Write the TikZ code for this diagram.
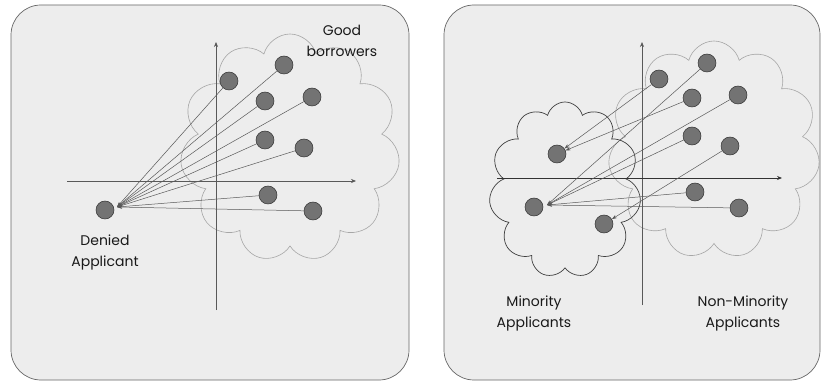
\documentclass[tikz,border=0pt]{standalone}
\usepackage{fontspec}
\setmainfont{Poppins}
\usetikzlibrary{shapes.symbols,arrows.meta}
\begin{document}
\begin{tikzpicture}[x=1pt,y=-1pt,
  panel/.style={draw=black!60, line width=0.7pt, fill=black!7, rounded corners=30pt},
  dot/.style={circle, draw=black!80, fill=black!55, line width=0.5pt, minimum size=18pt, inner sep=0pt},
  axis/.style={draw=black!65, line width=0.6pt, -{Stealth[length=5pt,width=4pt]}},
  vec/.style={draw=black!65, line width=0.5pt, -{Stealth[length=5pt,width=3.5pt]}},
  puffs/.style={cloud, cloud ignores aspect, inner sep=0pt, line width=0.6pt},
  lightcloud/.style={puffs, draw=black!35},
  darkcloud/.style={puffs, draw=black!75, line width=0.7pt},
  lbl/.style={font=\fontsize{14}{21}\selectfont, align=center, text=black!90, inner sep=0pt}
]
\useasboundingbox (0,0) rectangle (823,385);
% panels
\path[panel] (11,5) rectangle (409,380);
\path[panel] (444,5) rectangle (820,380);

% ---------- left panel ----------
\node[lightcloud, cloud puffs=11, minimum width=220pt, minimum height=228pt] (cL) at (290,148) {};
\coordinate (yL0) at (216,310);
\coordinate (yL1) at (216,42);
\coordinate (xL0) at (67,181);
\coordinate (xL1) at (356,181);
\draw[axis] (yL0) -- (yL1);
\draw[axis] (xL0) -- (xL1);

\node[dot] (den) at (105,210) {};
\coordinate (tL) at (117,207);
\node[dot] (g1) at (229,81) {};
\node[dot] (g2) at (284,65) {};
\node[dot] (g3) at (265,101) {};
\node[dot] (g4) at (312,97) {};
\node[dot] (g5) at (265,140) {};
\node[dot] (g6) at (304,148) {};
\node[dot] (g7) at (268,195) {};
\node[dot] (g8) at (313,211) {};
\foreach \g in {g1,g2,g3,g4,g5,g6,g7,g8} \draw[vec] (\g) -- (tL);

\node[lbl] (goodlbl) at (342,41) {Good\\borrowers};
\node[lbl] (denlbl) at (105,252) {Denied\\Applicant};

% ---------- right panel ----------
\node[lightcloud, cloud puffs=11, minimum width=212pt, minimum height=218pt] (cN) at (714,150) {};
\node[darkcloud, cloud puffs=11, minimum width=152pt, minimum height=176pt] (cM) at (565,190) {};
\coordinate (yR0) at (642,305);
\coordinate (yR1) at (642,42);
\coordinate (xR0) at (497,178);
\coordinate (xR1) at (782,178);
\draw[axis] (yR0) -- (yR1);
\draw[axis, draw=black!80, line width=0.8pt] (xR0) -- (xR1);

\node[dot] (m1) at (557,154) {};
\node[dot] (m2) at (534,207) {};
\node[dot] (m3) at (604,224) {};
\coordinate (tR) at (547,205);
\node[dot] (n1) at (659,79) {};
\node[dot] (n2) at (707,63) {};
\node[dot] (n3) at (692,98) {};
\node[dot] (n4) at (738,95) {};
\node[dot] (n5) at (692,136) {};
\node[dot] (n6) at (730,146) {};
\node[dot] (n7) at (695,192) {};
\node[dot] (n8) at (739,208) {};
\draw[vec] (n1) -- (m1);
\draw[vec] (n3) -- (m1);
\draw[vec] (n6) -- (m3);
\foreach \n in {n2,n4,n5,n7,n8} \draw[vec] (\n) -- (tR);

\node[lbl] (minlbl) at (534,313) {Minority\\Applicants};
\node[lbl] (nonlbl) at (743,313) {Non-Minority\\Applicants};
\end{tikzpicture}
\end{document}
